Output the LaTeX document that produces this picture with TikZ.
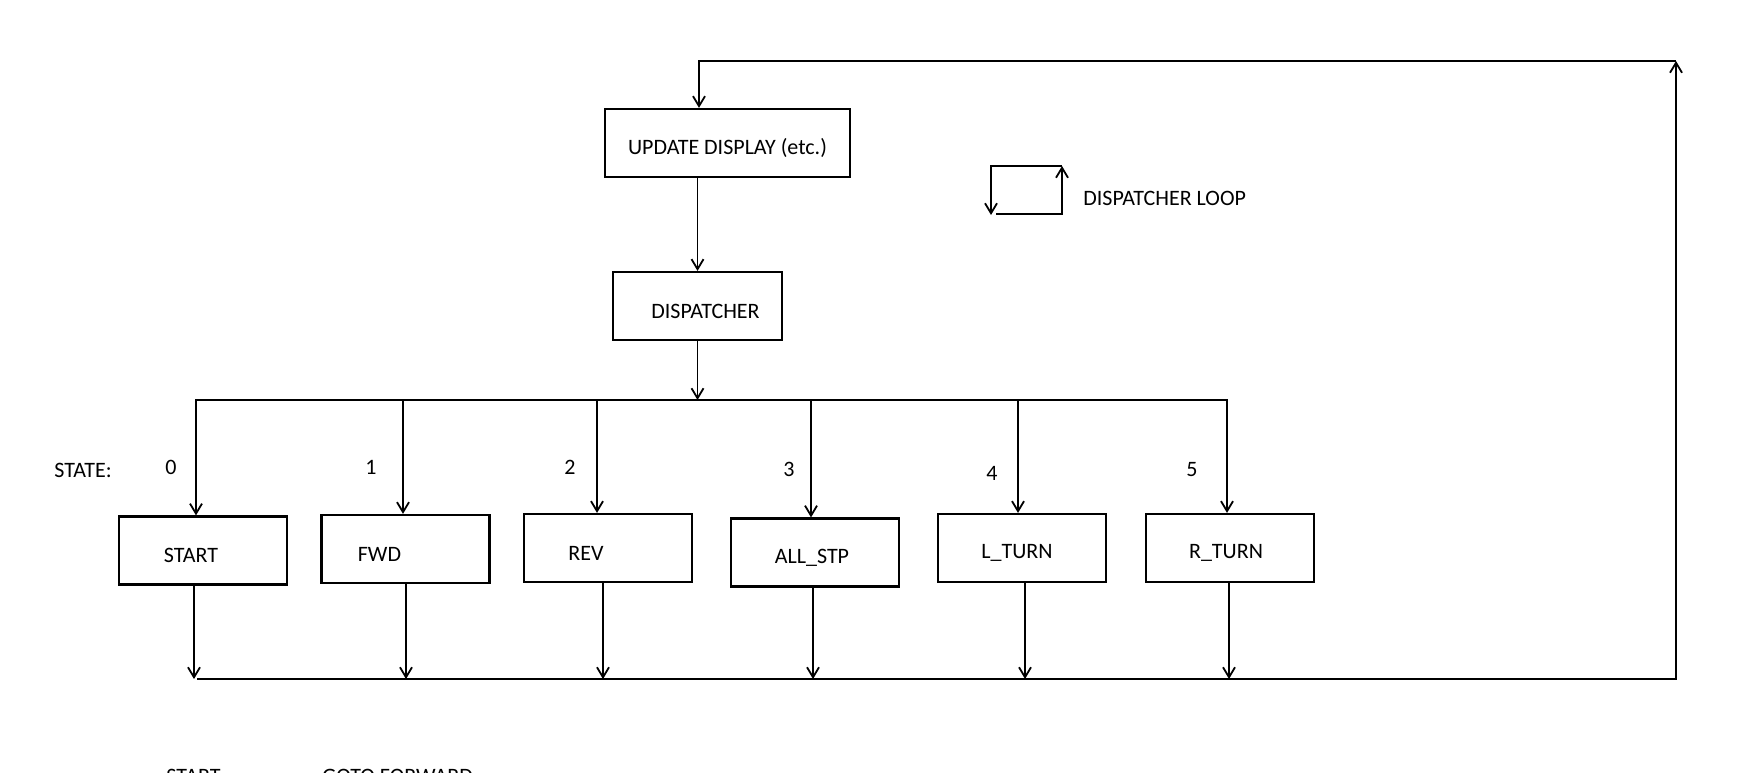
\documentclass[tikz,border=0pt]{standalone}
\usepackage{fontspec}
\setmainfont{Carlito}
\usetikzlibrary{arrows.meta,positioning,calc}

\begin{document}
\begin{tikzpicture}[
    x=0.5pt, y=-0.5pt,
    every node/.style={font=\fontsize{11}{13}\selectfont, inner sep=0pt},
    box/.style={
        rectangle,
        draw=black,
        line width=1.1pt,
        minimum width=84pt,
        minimum height=34pt
    },
    tag/.style={yshift=-2.5pt},
    arrow/.style={-{Straight Barb[length=5pt,width=6pt]},line width=0.9pt},
    twoway/.style={{Straight Barb[length=5pt,width=6pt]}-{Straight Barb[length=5pt,width=6pt]},line width=0.9pt}
]
    % Frame
    \path[use as bounding box, clip] (0,0) rectangle (1752,772);
    \fill[white] (0,0) rectangle (1752,772);

    % Main loop
    \node[box, minimum width=122.5pt, label={[tag]center:UPDATE DISPLAY (etc.)}] (update) at (727.5,143) {};
    \node[box, minimum width=84.5pt, label={[tag,xshift=4pt]center:DISPATCHER}] (dispatcher) at (697.5,306) {};

    % State routines
    \node[box, label={[tag,xshift=-6pt]center:START}] (start) at (203,550.5) {};
    \node[box, label={[tag,xshift=-13pt]center:FWD}] (fwd) at (405.5,549) {};
    \node[box, label={[tag,xshift=-11pt]center:REV}] (rev) at (608,548) {};
    \node[box, label={[tag,xshift=-1.5pt]center:ALL\_STP}] (allstp) at (815,552.5) {};
    \node[box, label={[tag,xshift=-2.5pt]center:L\_TURN}] (lturn) at (1022,548) {};
    \node[box, label={[tag,xshift=-2pt]center:R\_TURN}] (rturn) at (1230,548) {};

    % State numbers
    \node (statelbl) at (83,470) {STATE:};
    \node (st0) at (171,467) {0};
    \node (st1) at (371,467) {1};
    \node (st2) at (570,467) {2};
    \node (st3) at (789,469) {3};
    \node (st4) at (992,473) {4};
    \node (st5) at (1192,470) {5};

    % Dispatch bus
    \coordinate (busL) at (196,400);
    \coordinate (busR) at (1227,400);
    \draw[arrow] (dispatcher.north |- update.south) -- (dispatcher.north);
    \draw[arrow] (dispatcher.south) -- (dispatcher.south |- busL);
    \draw[twoway] (busL |- start.north) -- (busL) -- (busR) -- (busR |- rturn.north);
    \foreach \b/\x in {fwd/403,rev/597,allstp/811,lturn/1018}{
        \coordinate (in-\b) at (\x,400);
        \draw[arrow] (in-\b) -- (in-\b |- \b.north);
    }

    % Return bus
    \foreach \b/\x in {start/194,fwd/406,rev/603,allstp/813,lturn/1025,rturn/1229}{
        \coordinate (out-\b) at (\x,679);
        \draw[arrow] (out-\b |- \b.south) -- (out-\b);
    }
    \coordinate (botL) at (197,679);
    \coordinate (botR) at (1676,679);
    \coordinate (topR) at (1676,61);
    \coordinate (topL) at (699,61);
    \draw[arrow] (botL) -- (botR) -- (topR);
    \draw[arrow] (topR) -- (topL) -- (topL |- update.north);

    % Legend
    \draw[arrow] (996,214) -| (1062,166);
    \draw[arrow] (1062,166) -| (991,215);
    \node[anchor=west] (looplbl) at (1083,198) {DISPATCHER LOOP};

    % Cut-off notes
    \node[anchor=base west] (notestart) at (166,783) {START};
    \node[anchor=base west] (notegoto) at (322,783) {GOTO FORWARD};
\end{tikzpicture}
\end{document}
